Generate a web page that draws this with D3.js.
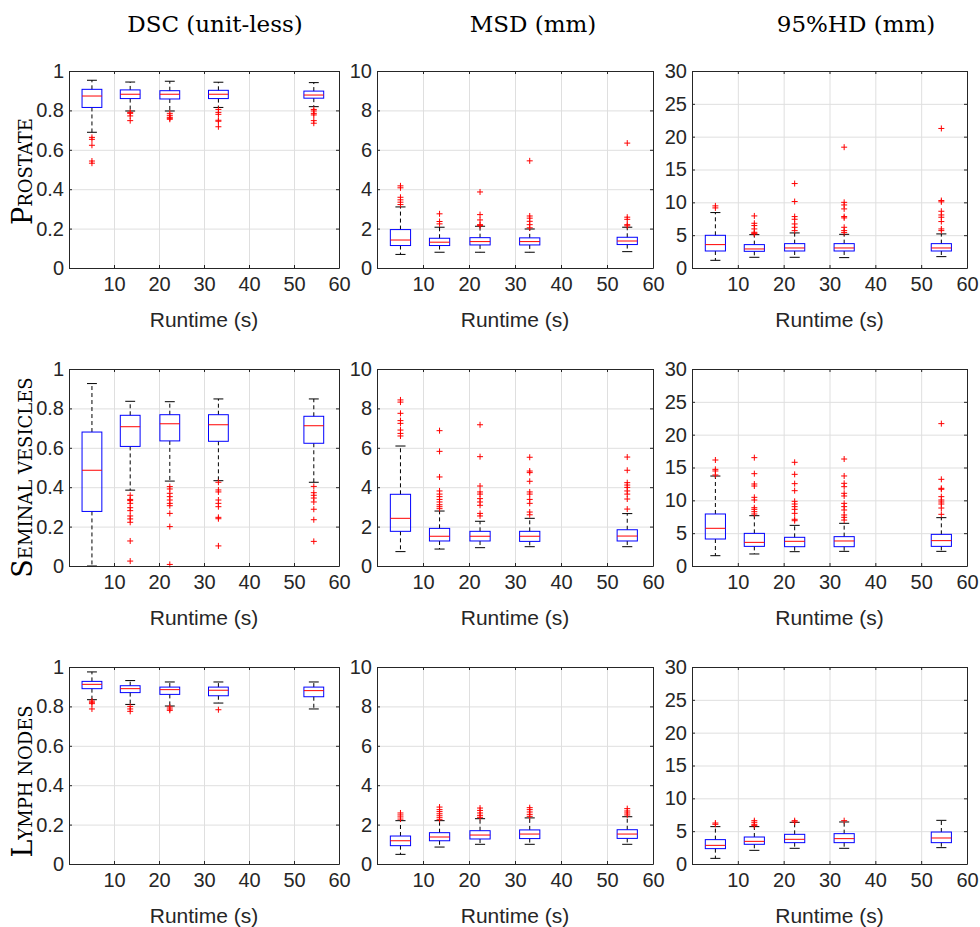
<!DOCTYPE html>
<html>
<head>
<meta charset="utf-8">
<script src="https://cdn.jsdelivr.net/npm/d3@7"></script>
<style>
  body { margin: 0; background: #fff; }
  svg { display: block; }
</style>
</head>
<body>
<div id="chart"></div>
<script>
// box stats are [lower whisker, q1, median, q3, upper whisker]
var runtimes = [5.1, 13.6, 22.4, 33.2, 54.4];
var metricTitles = ["DSC (unit-less)", "MSD (mm)", "95%HD (mm)"];
var structureNames = ["Prostate", "Seminal vesicles", "Lymph nodes"];
var yMaxes = [1, 10, 30];
var yTickSteps = [0.2, 2, 5];
var xTickValues = [10, 20, 30, 40, 50, 60];

var prostateDSC = [
  [0.689, 0.815, 0.873, 0.907, 0.953],
  [0.797, 0.860, 0.882, 0.904, 0.944],
  [0.797, 0.858, 0.882, 0.900, 0.948],
  [0.815, 0.860, 0.882, 0.902, 0.943],
  [0.819, 0.862, 0.878, 0.898, 0.941]];
var prostateDSCOut = [
  [0.663, 0.653, 0.623, 0.543, 0.532],
  [0.790, 0.785, 0.772, 0.748],
  [0.785, 0.775, 0.765, 0.760, 0.755],
  [0.805, 0.790, 0.780, 0.750, 0.745, 0.717],
  [0.805, 0.797, 0.785, 0.777, 0.748, 0.735]];

var prostateMSD = [
  [0.69, 1.14, 1.42, 1.95, 3.10],
  [0.80, 1.14, 1.31, 1.51, 2.07],
  [0.80, 1.17, 1.34, 1.54, 2.12],
  [0.80, 1.17, 1.34, 1.53, 1.98],
  [0.83, 1.19, 1.37, 1.56, 2.07]];
var prostateMSDOut = [
  [4.17, 4.07, 3.59, 3.46, 3.34, 3.22],
  [2.75, 2.36, 2.24],
  [3.86, 2.71, 2.44, 2.20, 2.15],
  [5.44, 2.64, 2.53, 2.37, 2.20, 2.04],
  [6.34, 2.58, 2.47, 2.20, 2.14]];

var prostateHD = [
  [1.17, 2.59, 3.56, 4.98, 8.44],
  [1.63, 2.54, 2.90, 3.56, 5.08],
  [1.63, 2.59, 3.05, 3.71, 5.34],
  [1.58, 2.59, 3.05, 3.71, 5.13],
  [1.73, 2.59, 3.05, 3.71, 5.19]];
var prostateHDOut = [
  [9.46, 9.15],
  [7.93, 6.81, 6.46, 5.95, 5.44, 5.30, 5.20],
  [12.86, 10.12, 7.83, 7.42, 6.71, 6.20, 5.69],
  [18.40, 10.00, 9.60, 9.00, 7.83, 7.63, 6.20, 5.69, 5.39],
  [21.25, 10.27, 10.07, 8.64, 8.08, 7.73, 7.07, 5.95, 5.69]];

var vesiclesDSC = [
  [0.000, 0.277, 0.486, 0.680, 0.926],
  [0.385, 0.607, 0.707, 0.765, 0.836],
  [0.431, 0.635, 0.722, 0.768, 0.834],
  [0.433, 0.633, 0.717, 0.768, 0.848],
  [0.425, 0.623, 0.712, 0.760, 0.848]];
var vesiclesDSCOut = [
  [],
  [0.359, 0.338, 0.332, 0.318, 0.296, 0.281, 0.254, 0.239, 0.222, 0.127, 0.025],
  [0.403, 0.391, 0.369, 0.352, 0.335, 0.318, 0.306, 0.267, 0.200, 0.008],
  [0.425, 0.386, 0.376, 0.335, 0.318, 0.301, 0.247, 0.240, 0.102],
  [0.404, 0.372, 0.359, 0.345, 0.325, 0.288, 0.235, 0.125]];

var vesiclesMSD = [
  [0.73, 1.76, 2.42, 3.64, 6.09],
  [0.86, 1.27, 1.51, 1.91, 2.79],
  [0.93, 1.27, 1.51, 1.76, 2.27],
  [0.98, 1.25, 1.51, 1.76, 2.42],
  [0.98, 1.27, 1.52, 1.84, 2.66]];
var vesiclesMSDOut = [
  [8.43, 8.32, 7.75, 7.38, 7.24, 6.90, 6.73, 6.60],
  [6.87, 5.82, 4.52, 3.81, 3.65, 3.52, 3.38, 3.25, 3.11, 3.01, 2.91],
  [7.17, 5.55, 4.06, 3.76, 3.65, 3.42, 3.25, 3.08, 2.67, 2.54],
  [5.52, 4.82, 4.74, 4.30, 3.76, 3.65, 3.38, 3.18, 2.74, 2.60],
  [5.53, 4.86, 4.23, 4.11, 3.99, 3.81, 3.65, 3.40, 2.89]];

var vesiclesHD = [
  [1.57, 4.11, 5.74, 7.92, 13.70],
  [1.83, 2.99, 3.60, 4.97, 7.66],
  [2.18, 2.94, 3.76, 4.37, 6.19],
  [2.23, 2.94, 3.81, 4.47, 6.50],
  [2.23, 2.99, 3.86, 4.82, 7.36]];
var vesiclesHDOut = [
  [16.14, 14.72, 14.47, 13.86],
  [16.50, 14.06, 12.49, 12.18, 10.46, 10.05, 8.88, 8.63, 8.27, 7.92],
  [15.79, 13.96, 12.54, 11.47, 9.85, 9.44, 9.04, 8.63, 8.02, 7.11, 6.90],
  [16.29, 13.71, 12.59, 12.08, 11.07, 10.66, 9.54, 9.04, 8.53, 7.77, 7.41, 7.00],
  [21.68, 13.20, 11.83, 11.68, 10.56, 10.05, 9.75, 9.44, 8.83, 7.87]];

var lymphDSC = [
  [0.834, 0.890, 0.912, 0.927, 0.975],
  [0.810, 0.870, 0.890, 0.905, 0.931],
  [0.802, 0.861, 0.885, 0.898, 0.924],
  [0.817, 0.854, 0.882, 0.898, 0.924],
  [0.787, 0.849, 0.880, 0.898, 0.924]];
var lymphDSCOut = [
  [0.827, 0.821, 0.814, 0.787],
  [0.800, 0.787, 0.775],
  [0.797, 0.787, 0.780],
  [0.783],
  []];

var lymphMSD = [
  [0.49, 0.93, 1.18, 1.42, 2.20],
  [0.86, 1.18, 1.37, 1.59, 2.20],
  [1.00, 1.27, 1.47, 1.69, 2.30],
  [1.00, 1.29, 1.52, 1.73, 2.34],
  [1.00, 1.30, 1.52, 1.74, 2.40]];
var lymphMSDOut = [
  [2.59, 2.49, 2.39, 2.28],
  [2.89, 2.76, 2.66, 2.55, 2.45, 2.35, 2.25],
  [2.84, 2.72, 2.59, 2.47, 2.37],
  [2.86, 2.76, 2.64, 2.52, 2.42],
  [2.81, 2.69, 2.59, 2.49]];

var lymphHD = [
  [0.86, 2.34, 2.84, 3.71, 5.69],
  [2.08, 3.00, 3.45, 4.11, 5.69],
  [2.39, 3.25, 3.76, 4.52, 6.35],
  [2.39, 3.25, 3.86, 4.62, 6.40],
  [2.49, 3.25, 3.96, 4.87, 6.65]];
var lymphHDOut = [
  [6.24, 6.04],
  [6.60, 6.35, 6.04, 5.84],
  [6.60, 6.40],
  [6.60],
  []];

// panels[row][col]
var panelStats = [
  [prostateDSC, prostateMSD, prostateHD],
  [vesiclesDSC, vesiclesMSD, vesiclesHD],
  [lymphDSC, lymphMSD, lymphHD]];
var panelOutliers = [
  [prostateDSCOut, prostateMSDOut, prostateHDOut],
  [vesiclesDSCOut, vesiclesMSDOut, vesiclesHDOut],
  [lymphDSCOut, lymphMSDOut, lymphHDOut]];

// layout
var width = 980, height = 927;
var colX = [[69, 339], [377, 653], [692, 967]];
var rowY = [[71, 268], [369, 566], [667, 864]];
var titleX = [215, 533, 856];
var rowLabelShift = [2, 10, 16];
var boxWidth = 4.4; // in seconds
var axisColor = "#262626";
var sans = "'Liberation Sans', Arial, sans-serif";
var serif = "'DejaVu Serif', serif";

var svg = d3.select("#chart").append("svg")
  .attr("width", width)
  .attr("height", height);

// column titles
svg.selectAll(".col-title")
  .data(metricTitles)
  .enter().append("text")
  .attr("class", "col-title")
  .attr("x", function(d, i) { return titleX[i]; })
  .attr("y", 32)
  .attr("text-anchor", "middle")
  .style("font-family", serif)
  .style("font-size", "23px")
  .attr("fill", "#000")
  .text(function(d) { return d; });

// row labels in small caps
structureNames.forEach(function(name, r) {
  var cy = (rowY[r][0] + rowY[r][1]) / 2 + rowLabelShift[r];
  var t = svg.append("text")
    .attr("transform", "translate(32," + cy + ") rotate(-90)")
    .attr("text-anchor", "middle")
    .style("font-family", serif)
    .attr("fill", "#000");
  t.append("tspan").style("font-size", "27px").text(name.charAt(0).toUpperCase());
  t.append("tspan").style("font-size", "18px").text(name.slice(1).toUpperCase());
});

for (var r = 0; r < 3; r++) {
  for (var c = 0; c < 3; c++) {
    drawPanel(r, c);
  }
}

function drawPanel(r, c) {
  var x = d3.scaleLinear().domain([0, 60]).range(colX[c]);
  var y = d3.scaleLinear().domain([0, yMaxes[c]]).range([rowY[r][1], rowY[r][0]]);
  var yTicks = d3.range(0, yMaxes[c] + yTickSteps[c] / 2, yTickSteps[c]);
  var w = colX[c][1] - colX[c][0];
  var h = rowY[r][1] - rowY[r][0];
  var fmt = c === 0 ? d3.format(".1~f") : d3.format("d");

  var g = svg.append("g");

  // grid
  g.append("g")
    .attr("transform", "translate(0," + rowY[r][1] + ")")
    .call(d3.axisBottom(x).tickValues(xTickValues.slice(0, -1)).tickSize(-h).tickFormat(""))
    .call(function(a) { a.select(".domain").remove(); a.selectAll("line").attr("stroke", "#dfdfdf"); });
  g.append("g")
    .attr("transform", "translate(" + colX[c][0] + ",0)")
    .call(d3.axisLeft(y).tickValues(yTicks.slice(1, -1)).tickSize(-w).tickFormat(""))
    .call(function(a) { a.select(".domain").remove(); a.selectAll("line").attr("stroke", "#dfdfdf"); });

  // boxes
  var stats = panelStats[r][c];
  var outs = panelOutliers[r][c];
  var boxes = g.selectAll(".box")
    .data(stats)
    .enter().append("g")
    .attr("class", "box");

  // whiskers (dashed)
  boxes.append("line")
    .attr("x1", function(d, i) { return x(runtimes[i]); })
    .attr("x2", function(d, i) { return x(runtimes[i]); })
    .attr("y1", function(d) { return y(d[3]); })
    .attr("y2", function(d) { return y(d[4]); })
    .attr("stroke", "#000").attr("stroke-dasharray", "4,3");
  boxes.append("line")
    .attr("x1", function(d, i) { return x(runtimes[i]); })
    .attr("x2", function(d, i) { return x(runtimes[i]); })
    .attr("y1", function(d) { return y(d[1]); })
    .attr("y2", function(d) { return y(d[0]); })
    .attr("stroke", "#000").attr("stroke-dasharray", "4,3");
  // caps
  [0, 4].forEach(function(k) {
    boxes.append("line")
      .attr("x1", function(d, i) { return x(runtimes[i] - boxWidth / 4); })
      .attr("x2", function(d, i) { return x(runtimes[i] + boxWidth / 4); })
      .attr("y1", function(d) { return y(d[k]); })
      .attr("y2", function(d) { return y(d[k]); })
      .attr("stroke", "#000");
  });
  // box
  boxes.append("rect")
    .attr("x", function(d, i) { return x(runtimes[i] - boxWidth / 2); })
    .attr("width", function(d, i) { return x(runtimes[i] + boxWidth / 2) - x(runtimes[i] - boxWidth / 2); })
    .attr("y", function(d) { return y(d[3]); })
    .attr("height", function(d) { return y(d[1]) - y(d[3]); })
    .attr("fill", "none")
    .attr("stroke", "#0000ff");
  // median
  boxes.append("line")
    .attr("x1", function(d, i) { return x(runtimes[i] - boxWidth / 2); })
    .attr("x2", function(d, i) { return x(runtimes[i] + boxWidth / 2); })
    .attr("y1", function(d) { return y(d[2]); })
    .attr("y2", function(d) { return y(d[2]); })
    .attr("stroke", "#ff0000");

  // outliers as red plus signs
  var pts = [];
  outs.forEach(function(list, i) {
    list.forEach(function(v) { pts.push({ t: runtimes[i], v: v }); });
  });
  g.selectAll(".out")
    .data(pts)
    .enter().append("path")
    .attr("class", "out")
    .attr("d", function(d) {
      var px = x(d.t), py = y(d.v);
      return "M" + (px - 3) + "," + py + "H" + (px + 3) + "M" + px + "," + (py - 3) + "V" + (py + 3);
    })
    .attr("stroke", "#ff0000")
    .attr("fill", "none");

  // axes with inward ticks
  var xAxis = g.append("g")
    .attr("transform", "translate(0," + rowY[r][1] + ")")
    .call(d3.axisBottom(x).tickValues(xTickValues).tickSize(-3).tickSizeOuter(0).tickPadding(9));
  g.append("g")
    .attr("transform", "translate(0," + rowY[r][0] + ")")
    .call(d3.axisTop(x).tickValues(xTickValues).tickSize(-3).tickSizeOuter(0).tickFormat(""));
  var yAxis = g.append("g")
    .attr("transform", "translate(" + colX[c][0] + ",0)")
    .call(d3.axisLeft(y).tickValues(yTicks).tickSize(-3).tickSizeOuter(0).tickPadding(5).tickFormat(fmt));
  g.append("g")
    .attr("transform", "translate(" + colX[c][1] + ",0)")
    .call(d3.axisRight(y).tickValues(yTicks).tickSize(-3).tickSizeOuter(0).tickFormat(""));

  g.selectAll(".domain").attr("stroke", axisColor);
  g.selectAll(".tick line").filter(function() { return d3.select(this).attr("stroke") !== "#dfdfdf"; })
    .attr("stroke", axisColor);
  [xAxis, yAxis].forEach(function(a) {
    a.selectAll("text")
      .style("font-family", sans)
      .style("font-size", "20px")
      .attr("fill", axisColor);
  });

  // x label
  g.append("text")
    .attr("x", (colX[c][0] + colX[c][1]) / 2)
    .attr("y", rowY[r][1] + 59)
    .attr("text-anchor", "middle")
    .style("font-family", sans)
    .style("font-size", "21px")
    .attr("fill", axisColor)
    .text("Runtime (s)");
}
</script>
</body>
</html>
